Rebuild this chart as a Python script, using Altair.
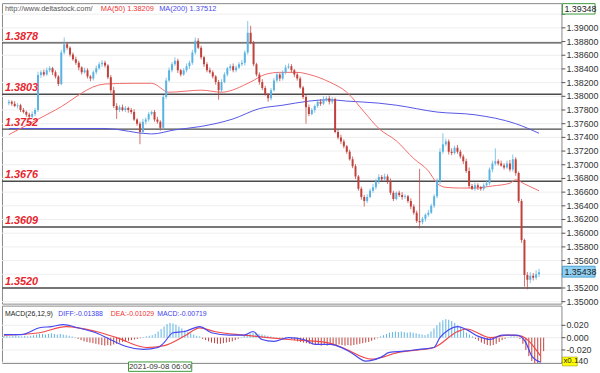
import altair as alt
import pandas as pd

# ---------------- data ----------------
closes = [
    1.3792, 1.3789, 1.3786, 1.3787, 1.3780, 1.3777, 1.3773, 1.3770, 1.3774, 1.3780,
    1.3831, 1.3835, 1.3832, 1.3838, 1.3841, 1.3835, 1.3829, 1.3818, 1.3864, 1.3876,
    1.3871, 1.3861, 1.3854, 1.3849, 1.3842, 1.3835, 1.3838, 1.3829, 1.3826, 1.3835,
    1.3841, 1.3847, 1.3849, 1.3845, 1.3828, 1.3809, 1.3786, 1.3780, 1.3784, 1.3780,
    1.3783, 1.3780, 1.3777, 1.3766, 1.3760, 1.3748, 1.3763, 1.3766, 1.3774, 1.3777,
    1.3766, 1.3763, 1.3754, 1.3799, 1.3823, 1.3838, 1.3847, 1.3852, 1.3838, 1.3832,
    1.3838, 1.3844, 1.3849, 1.3864, 1.3881, 1.3871, 1.3857, 1.3847, 1.3838, 1.3835,
    1.3829, 1.3821, 1.3809, 1.3821, 1.3832, 1.3841, 1.3844, 1.3838, 1.3842, 1.3847,
    1.3849, 1.3864, 1.3893, 1.3878, 1.3847, 1.3832, 1.3821, 1.3812, 1.3803, 1.3797,
    1.3809, 1.3823, 1.3832, 1.3826, 1.3835, 1.3842, 1.3844, 1.3838, 1.3832, 1.3826,
    1.3813, 1.3799, 1.3784, 1.3774, 1.3780, 1.3786, 1.3792, 1.3789, 1.3795, 1.3797,
    1.3792, 1.3796, 1.3748, 1.3740, 1.3734, 1.3727, 1.3719, 1.3708, 1.3698, 1.3683,
    1.3665, 1.3653, 1.3647, 1.3653, 1.3662, 1.3667, 1.3676, 1.3682, 1.3679, 1.3683,
    1.3676, 1.3659, 1.3650, 1.3659, 1.3656, 1.3653, 1.3654, 1.3647, 1.3639, 1.3630,
    1.3618, 1.3616, 1.3621, 1.3627, 1.3630, 1.3640, 1.3654, 1.3676, 1.3719, 1.3730,
    1.3734, 1.3719, 1.3717, 1.3725, 1.3719, 1.3712, 1.3705, 1.3691, 1.3669, 1.3665,
    1.3670, 1.3667, 1.3665, 1.3670, 1.3673, 1.3693, 1.3702, 1.3705, 1.3702, 1.3699,
    1.3696, 1.3702, 1.3693, 1.3708, 1.3688, 1.3647, 1.3590, 1.3539, 1.3532, 1.3538,
    1.3535, 1.3540, 1.3543,
]
first_open = 1.3790

# wick lengths in pips (upper / lower)
upper_wick = [
    3, 2, 4, 3, 2, 3, 2, 3, 4, 3,
    5, 3, 4, 4, 3, 2, 3, 2, 4, 10,
    3, 2, 3, 4, 3, 2, 4, 3, 2, 3,
    4, 3, 4, 3, 2, 3, 5, 4, 3, 4,
    3, 2, 3, 4, 2, 3, 4, 3, 3, 2,
    3, 4, 2, 3, 4, 4, 3, 5, 3, 2,
    3, 4, 3, 4, 5, 4, 3, 2, 3, 4,
    3, 2, 3, 4, 3, 2, 3, 4, 3, 3,
    4, 3, 17, 10, 3, 2, 3, 4, 3, 2,
    3, 4, 3, 2, 3, 4, 4, 3, 2, 3,
    3, 2, 3, 4, 3, 2, 3, 4, 5, 3,
    4, 3, 2, 3, 4, 3, 2, 3, 4, 3,
    2, 3, 3, 4, 3, 5, 3, 4, 3, 4,
    3, 4, 3, 2, 3, 4, 3, 2, 4, 3,
    3, 76, 3, 2, 4, 3, 3, 4, 5, 16,
    4, 3, 5, 3, 4, 3, 3, 4, 5, 3,
    4, 3, 2, 3, 4, 3, 4, 19, 3, 4,
    3, 4, 5, 7, 3, 2, 3, 2, 4, 5,
    4, 6, 5,
]
lower_wick = [
    3, 3, 2, 4, 3, 2, 3, 4, 3, 3,
    3, 4, 3, 2, 3, 4, 3, 3, 2, 3,
    3, 3, 2, 3, 4, 3, 2, 3, 4, 3,
    3, 2, 4, 3, 3, 4, 3, 13, 3, 2,
    3, 4, 3, 2, 3, 18, 3, 4, 3, 2,
    3, 3, 4, 3, 3, 2, 3, 3, 4, 3,
    2, 3, 4, 3, 3, 2, 3, 4, 3, 2,
    3, 4, 14, 3, 2, 3, 4, 3, 3, 2,
    3, 4, 3, 2, 3, 3, 4, 3, 2, 5,
    3, 2, 3, 4, 3, 3, 2, 3, 4, 3,
    2, 3, 24, 3, 2, 4, 3, 3, 2, 3,
    4, 3, 2, 3, 4, 3, 3, 2, 3, 4,
    3, 4, 8, 3, 2, 3, 3, 4, 3, 2,
    4, 3, 3, 2, 3, 4, 3, 3, 4, 3,
    3, 9, 3, 4, 3, 2, 3, 3, 4, 3,
    3, 4, 3, 2, 3, 3, 4, 3, 3, 2,
    3, 4, 3, 3, 2, 3, 4, 3, 3, 2,
    3, 2, 3, 3, 4, 3, 4, 17, 14, 5,
    4, 3, 4,
]

ma50_idx = [0, 16, 33, 43, 49, 55, 66, 73, 83, 88, 93, 99, 103, 110, 116, 122, 127,
            133, 139, 144, 147, 150, 155, 160, 166, 172, 174, 177, 182]
ma50_val = [1.3744, 1.3780, 1.3818, 1.3819, 1.3819, 1.3806, 1.3809, 1.3806, 1.3821,
            1.3832, 1.3835, 1.3835, 1.3832, 1.3821, 1.3806, 1.3777, 1.3753, 1.3735,
            1.3709, 1.3691, 1.3673, 1.3667, 1.3666, 1.3666, 1.3669, 1.3673, 1.3678,
            1.3672, 1.3662]
ma200_idx = [0, 33, 49, 57, 66, 77, 86, 94, 103, 110, 116, 127, 133, 147, 160, 174, 182]
ma200_val = [1.3753, 1.3753, 1.3745, 1.3751, 1.3756, 1.3767, 1.3782, 1.3787, 1.3793,
             1.3795, 1.3793, 1.3790, 1.3787, 1.3777, 1.3773, 1.3760, 1.3746]

levels = [1.3878, 1.3803, 1.3752, 1.3676, 1.3609, 1.3520]
level_labels = ["1.3878", "1.3803", "1.3752", "1.3676", "1.3609", "1.3520"]

# tick marks every 0.002; labels where they are not hidden by the price tags
price_ticks = [1.350, 1.352, 1.354, 1.356, 1.358, 1.360, 1.362, 1.364, 1.366, 1.368,
               1.370, 1.372, 1.374, 1.376, 1.378, 1.380, 1.382, 1.384, 1.386, 1.388,
               1.390, 1.392]
label_ticks = [1.350, 1.352, 1.356, 1.358, 1.360, 1.362, 1.364, 1.366, 1.368,
               1.370, 1.372, 1.374, 1.376, 1.378, 1.380, 1.382, 1.384, 1.386, 1.388,
               1.390]
label_texts = ["1.35000", "1.35200", "1.35600", "1.35800", "1.36000",
               "1.36200", "1.36400", "1.36600", "1.36800", "1.37000", "1.37200",
               "1.37400", "1.37600", "1.37800", "1.38000", "1.38200", "1.38400",
               "1.38600", "1.38800", "1.39000"]

diff_idx = [0, 6, 12, 16, 20, 25, 31, 38, 41, 47, 52, 54, 57, 61, 66, 70, 76, 81, 84,
            87, 91, 96, 101, 105, 110, 117, 122, 127, 130, 135, 140, 145, 147, 150,
            153, 156, 160, 164, 168, 173, 176, 178, 181]
diff_val = [0.005, 0.005, 0.016, 0.018, 0.021, 0.016, 0.008, -0.008, -0.014, -0.019,
            -0.016, -0.008, 0.008, 0.010, 0.018, 0.008, 0.004, 0.004, 0.010, -0.003,
            -0.006, 0.000, -0.003, -0.011, -0.011, -0.024, -0.038, -0.032, -0.024,
            -0.022, -0.019, -0.016, 0.000, 0.013, 0.018, 0.013, 0.002, -0.003, 0.004,
            0.004, -0.008, -0.030, -0.040]
dea_idx = [0, 12, 21, 31, 38, 48, 54, 61, 66, 71, 81, 89, 96, 109, 114, 124, 133, 145,
           153, 156, 164, 170, 174, 181]
dea_val = [0.004, 0.008, 0.018, 0.010, 0.000, -0.016, -0.013, 0.003, 0.016, 0.010,
           0.004, 0.000, -0.003, -0.008, -0.016, -0.035, -0.024, -0.016, 0.010, 0.014,
           0.000, 0.004, 0.003, -0.030]
hist = [
    0.003, 0.003, 0.002, 0.003, 0.004, 0.003, 0.002, 0.003, 0.002, 0.003,
    0.004, 0.005, 0.006, 0.006, 0.005, 0.006, 0.007, 0.006, 0.005, 0.006,
    0.005, 0.004, 0.003, 0.002, 0.001, -0.002, -0.004, -0.006, -0.007, -0.008,
    -0.009, -0.010, -0.011, -0.012, -0.013, -0.012, -0.013, -0.011, -0.010, -0.008,
    -0.007, -0.006, -0.005, -0.004, -0.003, -0.002, -0.001, 0.001, 0.002, 0.003,
    0.004, 0.006, 0.010, 0.014, 0.018, 0.022, 0.024, 0.023, 0.021, 0.018,
    0.015, 0.012, 0.009, 0.007, 0.005, 0.003, 0.002, -0.002, -0.004, -0.006,
    -0.008, -0.009, -0.010, -0.010, -0.009, -0.008, -0.007, -0.006, -0.004, -0.002,
    0.001, 0.003, 0.005, 0.007, 0.008, 0.007, 0.006, 0.005, 0.004, 0.003,
    0.002, 0.001, -0.001, -0.002, -0.002, -0.001, 0.001, -0.002, -0.004, -0.006,
    -0.007, -0.008, -0.009, -0.010, -0.011, -0.012, -0.012, -0.013, -0.012, -0.013,
    -0.012, -0.013, -0.012, -0.011, -0.012, -0.013, -0.012, -0.013, -0.012, -0.011,
    -0.010, -0.009, -0.008, -0.007, -0.005, -0.003, -0.001, 0.002, 0.004, 0.006,
    0.008, 0.009, 0.010, 0.009, 0.010, 0.009, 0.008, 0.009, 0.008, 0.007,
    0.006, 0.005, 0.004, 0.006, 0.010, 0.015, 0.020, 0.025, 0.028, 0.030,
    0.029, 0.027, 0.024, 0.020, 0.016, 0.012, 0.008, 0.005, 0.002, -0.002,
    -0.005, -0.008, -0.010, -0.012, -0.013, -0.012, -0.010, -0.007, -0.004, -0.002,
    0.001, 0.002, 0.002, 0.001, -0.002, -0.010, -0.020, -0.030, -0.038, -0.042,
    -0.044, -0.040, -0.022,
]
macd_ticks = [-0.04, -0.02, 0.0, 0.02]
macd_label_ticks = [-0.02, 0.0, 0.02]
macd_label_texts = ["-0.020", "0.000", "0.020"]
macd_hidden_label = "40"   # visible remainder of "-0.040" next to the x0.1 box

last_price = 1.35438
top_price_text = "1.39348"
date_label = "2021-09-08 06:00"

# ---------------- tables ----------------
n = len(closes)
opens = [first_open] + closes[:-1]
pip = 0.0001
candles = pd.DataFrame({
    "i": list(range(n)),
    "open": opens,
    "close": closes,
    "high": [max(o, c) + u * pip for o, c, u in zip(opens, closes, upper_wick)],
    "low": [min(o, c) - d * pip for o, c, d in zip(opens, closes, lower_wick)],
})
candles["dir"] = ["up" if c >= o else "down" for o, c in zip(opens, closes)]

ma50 = pd.DataFrame({"i": ma50_idx, "v": ma50_val})
ma200 = pd.DataFrame({"i": ma200_idx, "v": ma200_val})
lv = pd.DataFrame({"p": levels, "t": level_labels})
pt = pd.DataFrame({"p": price_ticks})
pl = pd.DataFrame({"p": label_ticks, "t": label_texts})
mt = pd.DataFrame({"p": macd_ticks})
ml = pd.DataFrame({"p": macd_label_ticks, "t": macd_label_texts})
diff_df = pd.DataFrame({"i": diff_idx, "v": diff_val})
dea_df = pd.DataFrame({"i": dea_idx, "v": dea_val})
hist_df = pd.DataFrame({"i": list(range(len(hist))), "h": hist})
hist_df["dir"] = ["up" if h >= 0 else "down" for h in hist]

W = 566
H1 = 304
H2 = 58
FONT = "Liberation Sans"

xs = alt.Scale(domain=[-0.667, 188], nice=False, zero=False)
ys = alt.Scale(domain=[1.34971, 1.39361], nice=False, zero=False)
X = alt.X("i:Q", scale=xs, axis=None)


def Yp(field):
    return alt.Y(field, scale=ys, axis=None)


BLUE = "#5ab3e2"
RED = "#c0403c"
cscale = alt.Scale(domain=["up", "down"], range=[BLUE, RED])

p_grid = alt.Chart(pt).mark_rule(color="#eeeeee", strokeWidth=1).encode(y=Yp("p:Q"))
p_ticks = alt.Chart(pt).mark_rule(color="#555555", strokeWidth=1).encode(
    x=alt.value(W), x2=alt.value(W + 4), y=Yp("p:Q"))
p_labels = alt.Chart(pl).mark_text(align="left", baseline="middle", font=FONT,
                                   fontSize=9, color="#333333").encode(
    x=alt.value(W + 5), y=Yp("p:Q"), text="t:N")

level_rules = alt.Chart(lv).mark_rule(color="#4a4a4a", strokeWidth=1.4).encode(
    y=Yp("p:Q"))
level_text = alt.Chart(lv).mark_text(
    align="left", baseline="bottom", dy=-1, font=FONT, fontSize=11,
    fontStyle="italic", fontWeight="bold", color="#e8242c").encode(
    x=alt.value(3), y=Yp("p:Q"), text="t:N")

ma50_line = alt.Chart(ma50).mark_line(color="#f26b6b", strokeWidth=1,
                                      interpolate="monotone", clip=True).encode(
    x=X, y=Yp("v:Q"))
ma200_line = alt.Chart(ma200).mark_line(color="#5555e6", strokeWidth=1,
                                        interpolate="monotone", clip=True).encode(
    x=X, y=Yp("v:Q"))

wicks = alt.Chart(candles).mark_rule(strokeWidth=1, opacity=0.75, clip=True).encode(
    x=X, y=Yp("low:Q"), y2="high:Q",
    color=alt.Color("dir:N", scale=cscale, legend=None))
bodies = alt.Chart(candles).mark_bar(size=2, clip=True).encode(
    x=X, y=Yp("open:Q"), y2="close:Q",
    color=alt.Color("dir:N", scale=cscale, legend=None))

hdr = pd.DataFrame({
    "x": [3, 100, 159],
    "t": ["http://www.deltastock.com/", "MA(50)   1.38209", "MA(200)   1.37512"],
    "c": ["#555555", "#ee3333", "#4a4ae8"],
})
header = alt.Chart(hdr).mark_text(align="left", baseline="middle", font=FONT,
                                  fontSize=7.5).encode(
    x=alt.X("x:Q", scale=None), y=alt.value(6), text="t:N",
    color=alt.Color("c:N", scale=None))

top_box = alt.Chart(pd.DataFrame({"t": [top_price_text]})).mark_rect(
    fill="#ffffff", stroke="#3a9a3a", strokeWidth=1).encode(
    x=alt.value(W + 1), x2=alt.value(W + 34), y=alt.value(0.5), y2=alt.value(11))
top_text = alt.Chart(pd.DataFrame({"t": [top_price_text]})).mark_text(
    align="left", baseline="middle", font=FONT, fontSize=9, color="#222").encode(
    x=alt.value(W + 3), y=alt.value(6), text="t:N")

lp = pd.DataFrame({"p": [last_price], "t": ["1.35438"]})
last_box = alt.Chart(lp).mark_rect(yOffset=-5.5, y2Offset=5.5, fill="#8fd0f2",
                                   stroke="#4aa0d0", strokeWidth=1).encode(
    x=alt.value(W + 1), x2=alt.value(W + 34), y=Yp("p:Q"), y2="p:Q")
last_text = alt.Chart(lp).mark_text(align="left", baseline="middle", font=FONT,
                                    fontSize=9, color="#222").encode(
    x=alt.value(W + 3), y=Yp("p:Q"), text="t:N")

price_panel = alt.layer(p_grid, p_ticks, p_labels, level_rules, ma200_line, ma50_line,
                        wicks, bodies, level_text, header, top_box, top_text,
                        last_box, last_text).properties(width=W, height=H1)

# ---------------- MACD panel ----------------
ms = alt.Scale(domain=[-0.0411, 0.052], nice=False, zero=False)


def Ym(field):
    return alt.Y(field, scale=ms, axis=None)


hscale = alt.Scale(domain=["up", "down"], range=["#86c8ea", "#cf5a5a"])

m_grid = alt.Chart(mt).mark_rule(color="#eeeeee", strokeWidth=1).encode(y=Ym("p:Q"))
m_ticks = alt.Chart(mt).mark_rule(color="#555555", strokeWidth=1).encode(
    x=alt.value(W), x2=alt.value(W + 4), y=Ym("p:Q"))
m_labels = alt.Chart(ml).mark_text(align="left", baseline="middle", font=FONT,
                                   fontSize=9, color="#333333").encode(
    x=alt.value(W + 5), y=Ym("p:Q"), text="t:N")

hist_bars = alt.Chart(hist_df).mark_rule(strokeWidth=1, clip=True).encode(
    x=X, y=Ym("h:Q"), y2=alt.datum(0),
    color=alt.Color("dir:N", scale=hscale, legend=None))
dea_line = alt.Chart(dea_df).mark_line(color="#f04848", strokeWidth=1.2,
                                       interpolate="monotone", clip=True).encode(
    x=X, y=Ym("v:Q"))
diff_line = alt.Chart(diff_df).mark_line(color="#4848f0", strokeWidth=1.2,
                                         interpolate="monotone", clip=True).encode(
    x=X, y=Ym("v:Q"))

mhdr = pd.DataFrame({
    "x": [3, 57, 110, 157],
    "t": ["MACD(26,12,9)", "DIFF:-0.01388", "DEA:-0.01029", "MACD:-0.00719"],
    "c": ["#222222", "#4040ee", "#ee3333", "#4040ee"],
})
macd_header = alt.Chart(mhdr).mark_text(align="left", baseline="middle", font=FONT,
                                        fontSize=7).encode(
    x=alt.X("x:Q", scale=None), y=alt.value(9), text="t:N",
    color=alt.Color("c:N", scale=None))

date_box = alt.Chart(pd.DataFrame({"t": [date_label]})).mark_rect(
    fill="#ffffff", stroke="#3a9a3a", strokeWidth=1).encode(
    x=alt.value(128), x2=alt.value(192), y=alt.value(H2 - 1), y2=alt.value(H2 + 8.5))
date_text = alt.Chart(pd.DataFrame({"t": [date_label]})).mark_text(
    align="center", baseline="middle", font=FONT, fontSize=8, color="#333").encode(
    x=alt.value(160), y=alt.value(H2 + 3.8), text="t:N")
scale_box = alt.Chart(pd.DataFrame({"t": ["x0.1"]})).mark_rect(
    fill="#ffff00", stroke="#888800", strokeWidth=0.5).encode(
    x=alt.value(W + 1), x2=alt.value(W + 16), y=alt.value(H2 - 6), y2=alt.value(H2 + 3))
scale_text = alt.Chart(pd.DataFrame({"t": ["x0.1"]})).mark_text(
    align="left", baseline="middle", font=FONT, fontSize=8, color="#222").encode(
    x=alt.value(W + 2), y=alt.value(H2 - 1.5), text="t:N")
rest_text = alt.Chart(pd.DataFrame({"t": [macd_hidden_label]})).mark_text(
    align="left", baseline="middle", font=FONT, fontSize=9, color="#333").encode(
    x=alt.value(W + 17), y=alt.value(H2 - 1.5), text="t:N")

macd_panel = alt.layer(m_grid, m_ticks, m_labels, hist_bars, dea_line, diff_line,
                       macd_header, date_box, date_text, scale_box,
                       scale_text, rest_text).properties(width=W, height=H2)

chart = alt.vconcat(price_panel, macd_panel, spacing=2, padding=0, bounds="flush",
                    background="#ffffff").configure_view(
    stroke="#888888", strokeWidth=1).configure_concat(spacing=2)

chart.save("out.html", embed_options={"renderer": "svg", "actions": False})
